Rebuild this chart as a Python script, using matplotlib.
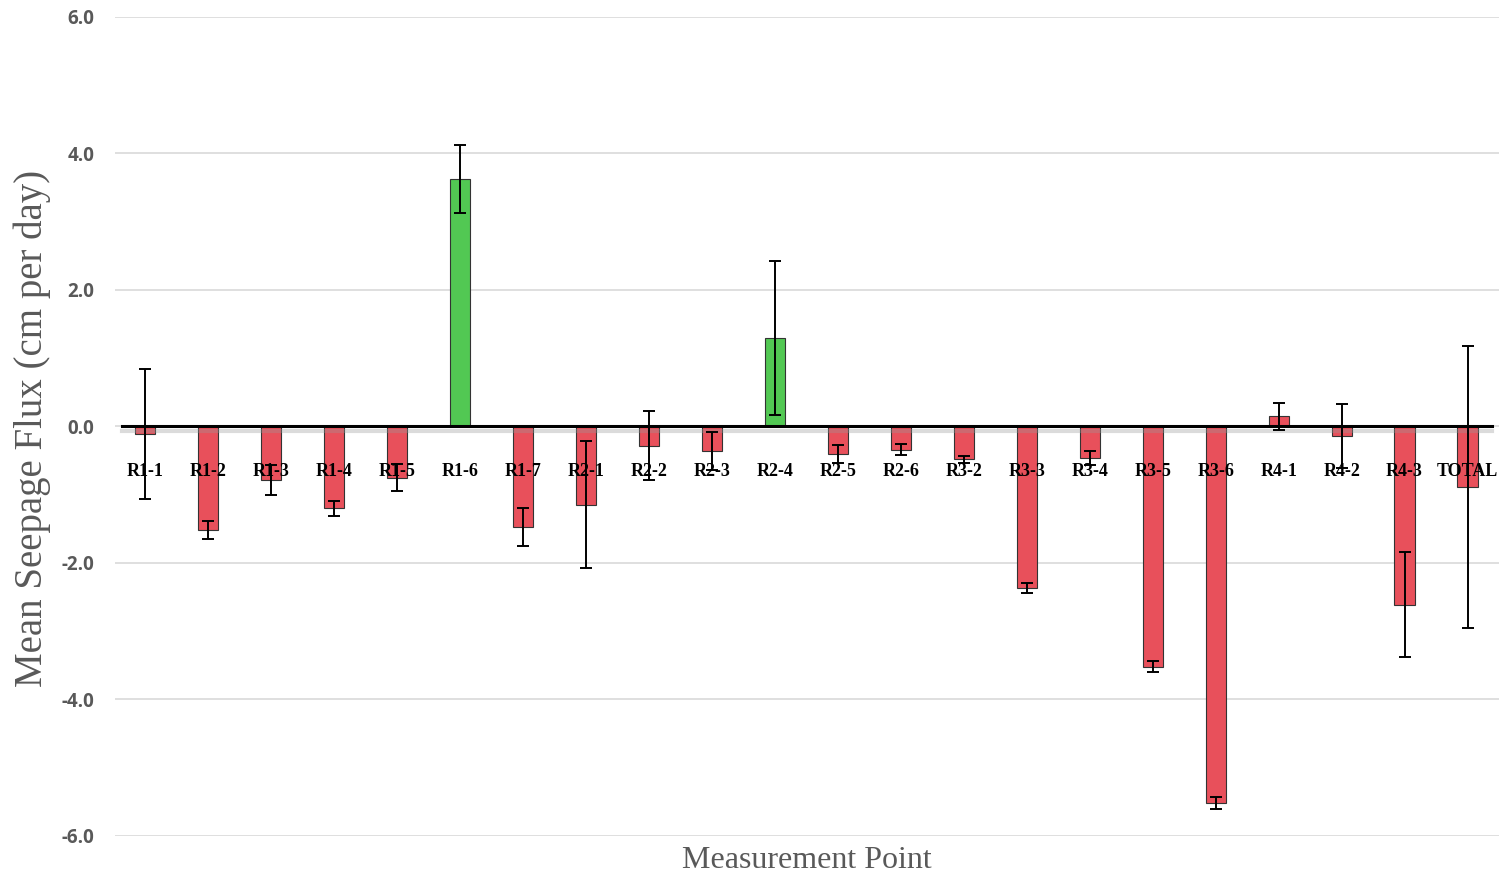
import numpy as np
import matplotlib.pyplot as plt

points = ['R1-1', 'R1-2', 'R1-3', 'R1-4', 'R1-5', 'R1-6', 'R1-7',
          'R2-1', 'R2-2', 'R2-3', 'R2-4', 'R2-5', 'R2-6',
          'R3-2', 'R3-3', 'R3-4', 'R3-5', 'R3-6',
          'R4-1', 'R4-2', 'R4-3', 'TOTAL']
flux = [-0.11, -1.52, -0.78, -1.20, -0.75, 3.63, -1.47,
        -1.15, -0.28, -0.36, 1.30, -0.40, -0.34,
        -0.48, -2.37, -0.46, -3.52, -5.52,
        0.15, -0.14, -2.61, -0.89]
err = [0.95, 0.13, 0.22, 0.11, 0.20, 0.50, 0.28,
       0.93, 0.51, 0.28, 1.13, 0.13, 0.08,
       0.05, 0.07, 0.10, 0.08, 0.09,
       0.20, 0.47, 0.77, 2.07]
gaining = ['R1-6', 'R2-4']  # highlighted in green

x = np.arange(len(points))
colors = ['#52c853' if p in gaining else '#e8505b' for p in points]

fig = plt.figure(figsize=(14.99, 8.76), dpi=100)
ax = fig.add_axes([0.0767, 0.0457, 0.9233, 0.9349])

ax.bar(x, flux, width=0.32, color=colors, edgecolor='#333333', linewidth=0.8, zorder=2)
ax.errorbar(x, flux, yerr=err, fmt='none', ecolor='black', elinewidth=1.4,
            capsize=4.5, capthick=1.4, zorder=4)

# category names sit just under the zero line
for xi, name in zip(x, points):
    ax.text(xi, -0.66, name, ha='center', va='center', fontsize=13,
            fontweight='bold', family='Liberation Serif', color='black', zorder=3)

# zero line with a soft shadow
ax.axhline(-0.06, xmin=0.005, xmax=0.995, color='#999999', lw=3, alpha=0.35, zorder=2.5)
ax.axhline(0, xmin=0.005, xmax=0.995, color='black', lw=2.2, zorder=3)

ax.set_xlim(-0.48, 21.5)
ax.set_ylim(-6, 6)
ticks = [-6, -4, -2, 0, 2, 4, 6]
ax.set_yticks(ticks)
ax.set_yticklabels(['%.1f' % t for t in ticks],
                   fontsize=13.5, fontweight='bold', family='Open Sans', color='#595959')
ax.tick_params(axis='y', length=0, pad=15)
ax.set_xticks([])
ax.grid(axis='y', color='#d9d9d9', lw=1.2, zorder=0)
ax.set_axisbelow(True)
for s in ax.spines.values():
    s.set_visible(False)

fig.text(0.0213, 0.511, 'Mean Seepage Flux (cm per day)', rotation=90, ha='center', va='center',
         fontsize=28, family='Liberation Serif', color='#595959')
fig.text(0.538, 0.018, 'Measurement Point', ha='center', va='center',
         fontsize=23, family='Liberation Serif', color='#595959')

fig.savefig('out.png', dpi=100)
